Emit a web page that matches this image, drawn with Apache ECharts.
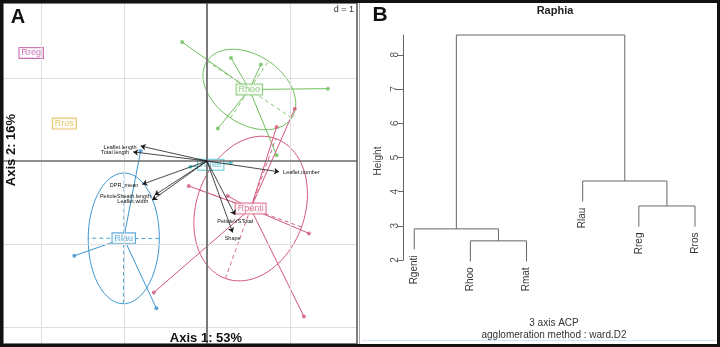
<!DOCTYPE html>
<html>
<head>
<meta charset="utf-8">
<script src="https://cdn.jsdelivr.net/npm/echarts@6/dist/echarts.min.js"></script>
<style>
html,body{margin:0;padding:0;background:#fff}
#main{width:720px;height:347px}
</style>
</head>
<body>
<div id="main"></div>
<script>
// panel A : groups (ACP scores per individual)
var groupNames  = ['Rhoo','Rpenti','Rlau','Rmat','Rreg','Rros'];
var groupColors = ['#6fbf5c','#d4587b','#3c97cf','#45bccc','#b9499f','#e0b43c'];
var rhooPts   = [[-0.30,1.43],[0.29,1.24],[0.65,1.16],[1.46,0.87],[0.13,0.39],[0.84,0.07]];
var rpentiPts = [[1.06,0.63],[0.84,0.41],[-0.22,-0.30],[0.25,-0.42],[1.23,-0.87],[-0.64,-1.58],[1.17,-1.87]];
var rlauPts   = [[-1.60,-1.14],[-0.61,-1.77],[-0.80,0.12]];
var rmatPts   = [[-0.20,-0.07],[0.29,-0.02]];
var rregPts   = [[-2.12,1.30]];
var rrosPts   = [[-1.72,0.45]];
var groupPts  = [rhooPts, rpentiPts, rlauPts, rmatPts, rregPts, rrosPts];

// panel A : variables (arrows)
var varNames = ['Leaflet.length','Total.length','Leaflet.number','DPR_mean','PetioleSheath.length','Leaflet.width','PetioleVSTotal','Shape'];
var varX = [-0.80,-0.89,0.87,-0.78,-0.63,-0.66,0.34,0.31];
var varY = [0.18,0.11,-0.13,-0.28,-0.41,-0.47,-0.65,-0.86];

// panel B : dendrogram (R hclust style merge matrix)
var leafNames    = ['Rgenti','Rhoo','Rmat','Rlau','Rreg','Rros'];
var mergePairs   = [[-2,-3],[-1,1],[-5,-6],[-4,3],[2,4]];
var mergeHeights = [2.56,2.91,3.58,4.31,8.58];
var heightTicks  = [2,3,4,5,6,7,8];

var myChart = echarts.init(document.getElementById('main'));

// group stats : centroid + covariance ellipse (cellipse = 1)
var groups = [];
for (var g = 0; g < groupPts.length; g++) {
  var pts = groupPts[g], n = pts.length, mx = 0, my = 0;
  pts.forEach(function(p){ mx += p[0]; my += p[1]; });
  mx /= n; my /= n;
  var vx = 0, vy = 0, cxy = 0;
  pts.forEach(function(p){ var dx = p[0]-mx, dy = p[1]-my; vx += dx*dx; vy += dy*dy; cxy += dx*dy; });
  vx /= n; vy /= n; cxy /= n;
  var tr = vx + vy, det = vx*vy - cxy*cxy;
  var d = Math.sqrt(Math.max(tr*tr/4 - det, 0));
  groups.push({
    name: groupNames[g], color: groupColors[g], pts: pts, cx: mx, cy: my,
    a: Math.sqrt(tr/2 + d), b: Math.sqrt(Math.max(tr/2 - d, 0)),
    ang: 0.5*Math.atan2(2*cxy, vx - vy)
  });
}

var ellipseData = [], starData = [], pointData = [], labelData = [];
groups.forEach(function(gr, i){
  if (gr.pts.length >= 3) ellipseData.push([i, 0]);
  gr.pts.forEach(function(p){
    if (gr.pts.length > 1) {
      starData.push({coords: [[gr.cx, gr.cy], p], lineStyle: {color: gr.color}});
      pointData.push({value: p, itemStyle: {color: gr.color}});
    }
  });
  labelData.push({
    value: [gr.cx, gr.cy], name: gr.name,
    label: {color: gr.color, borderColor: gr.color}
  });
});

var arrowData = [], arrowLabelData = [];
for (var v = 0; v < varNames.length; v++) {
  arrowData.push({coords: [[0, 0], [varX[v], varY[v]]]});
  arrowLabelData.push([varX[v], varY[v], v]);
}

// dendrogram segments
var hang = 0.1 * (mergeHeights[mergeHeights.length-1] - mergeHeights[0]);
var clusterX = [], dendroData = [], leafData = [];
mergePairs.forEach(function(m, i){
  var h = mergeHeights[i], xs = [], hs = [];
  m.forEach(function(c){
    if (c < 0) {
      xs.push(-c); hs.push(h - hang);
      leafData.push([-c, h - hang, -c - 1]);
    } else {
      xs.push(clusterX[c-1]); hs.push(mergeHeights[c-1]);
    }
  });
  clusterX.push((xs[0] + xs[1]) / 2);
  dendroData.push([xs[0], xs[1], hs[0], hs[1], h]);
});

var gridLines = [-2, -1, 1];
var markGrid = [];
gridLines.forEach(function(k){ markGrid.push({xAxis: k}); });
[1, -1, -2].forEach(function(k){ markGrid.push({yAxis: k}); });

var option = {
  animation: false,
  backgroundColor: '#fff',
  grid: [
    {left: 3, top: 3, width: 354, height: 341},
    {left: 403, top: 35, width: 303.2, height: 225}
  ],
  xAxis: [
    {gridIndex: 0, type: 'value', min: -2.46, max: 1.81, show: false},
    {gridIndex: 1, type: 'value', min: 0.8, max: 6.2, show: false}
  ],
  yAxis: [
    {gridIndex: 0, type: 'value', min: -2.20, max: 1.90, show: false},
    {gridIndex: 1, type: 'value', min: 2, max: 8.58,
      axisLine: {show: true, lineStyle: {color: '#666', width: 1}},
      axisTick: {show: true, length: 5, customValues: heightTicks, lineStyle: {color: '#666'}},
      axisLabel: {customValues: heightTicks, rotate: 90, fontSize: 10, color: '#555', margin: 3,
        fontFamily: 'Liberation Sans'},
      splitLine: {show: false}}
  ],
  graphic: [
    {type: 'rect', z: 100, shape: {x: 3, y: 3, width: 354, height: 341},
      style: {fill: 'none', stroke: '#555', lineWidth: 1.5}},
    {type: 'line', z: 100, shape: {x1: 359.5, y1: 3, x2: 359.5, y2: 344},
      style: {stroke: '#aaa', lineWidth: 1}},
    {type: 'line', z: 100, shape: {x1: 362, y1: 340.5, x2: 718, y2: 340.5},
      style: {stroke: '#d3e4f4', lineWidth: 1}},
    {type: 'rect', z: 100, shape: {x: 1.5, y: 1.5, width: 717, height: 344},
      style: {fill: 'none', stroke: '#111', lineWidth: 3}},
    {type: 'text', z: 100, x: 18, y: 17,
      style: {text: 'A', font: 'bold 20px "Liberation Sans"', fill: '#111', align: 'center', verticalAlign: 'middle'}},
    {type: 'text', z: 100, x: 380, y: 15,
      style: {text: 'B', font: 'bold 21px "Liberation Sans"', fill: '#111', align: 'center', verticalAlign: 'middle'}},
    {type: 'text', z: 100, x: 354, y: 10,
      style: {text: 'd = 1', font: '9px "Liberation Sans"', fill: '#333', align: 'right', verticalAlign: 'middle'}},
    {type: 'text', z: 100, x: 206, y: 338,
      style: {text: 'Axis 1: 53%', font: 'bold 13px "Liberation Sans"', fill: '#111', align: 'center', verticalAlign: 'middle'}},
    {type: 'text', z: 100, x: 11, y: 150, rotation: Math.PI/2,
      style: {text: 'Axis 2: 16%', font: 'bold 13px "Liberation Sans"', fill: '#111', align: 'center', verticalAlign: 'middle'}},
    {type: 'text', z: 100, x: 555, y: 11,
      style: {text: 'Raphia', font: 'bold 11px "Liberation Sans"', fill: '#222', align: 'center', verticalAlign: 'middle'}},
    {type: 'text', z: 100, x: 378, y: 161, rotation: Math.PI/2,
      style: {text: 'Height', font: '10px "Liberation Sans"', fill: '#444', align: 'center', verticalAlign: 'middle'}},
    {type: 'text', z: 100, x: 554, y: 323,
      style: {text: '3 axis ACP', font: '10px "Liberation Sans"', fill: '#333', align: 'center', verticalAlign: 'middle'}},
    {type: 'text', z: 100, x: 554, y: 335,
      style: {text: 'agglomeration method : ward.D2', font: '10px "Liberation Sans"', fill: '#333', align: 'center', verticalAlign: 'middle'}}
  ],
  series: [
    {
      // grid lines of the ACP plot
      type: 'scatter', xAxisIndex: 0, yAxisIndex: 0, z: 0, symbolSize: 0, silent: true,
      data: [[0, 0]],
      markLine: {
        silent: true, symbol: 'none', label: {show: false},
        lineStyle: {color: '#dedede', width: 1, type: 'solid'},
        data: markGrid.concat([
          {xAxis: 0, lineStyle: {color: '#7a7a7a', width: 2}},
          {yAxis: 0, lineStyle: {color: '#6a6a6a', width: 1.5}}
        ])
      }
    },
    {
      type: 'custom', xAxisIndex: 0, yAxisIndex: 0, z: 1, silent: true,
      data: ellipseData,
      renderItem: function(params, api){
        var gr = groups[api.value(0)];
        var c = Math.cos(gr.ang), s = Math.sin(gr.ang), pts = [];
        for (var k = 0; k <= 90; k++) {
          var t = k / 90 * Math.PI * 2;
          var ex = gr.a*Math.cos(t), ey = gr.b*Math.sin(t);
          pts.push(api.coord([gr.cx + ex*c - ey*s, gr.cy + ex*s + ey*c]));
        }
        var p1 = api.coord([gr.cx - gr.a*c, gr.cy - gr.a*s]);
        var p2 = api.coord([gr.cx + gr.a*c, gr.cy + gr.a*s]);
        var q1 = api.coord([gr.cx + gr.b*s, gr.cy - gr.b*c]);
        var q2 = api.coord([gr.cx - gr.b*s, gr.cy + gr.b*c]);
        var dash = {stroke: gr.color, lineWidth: 0.9, lineDash: [4, 3], fill: 'none'};
        return {type: 'group', children: [
          {type: 'polyline', shape: {points: pts}, style: {stroke: gr.color, lineWidth: 1, fill: 'none'}},
          {type: 'line', shape: {x1: p1[0], y1: p1[1], x2: p2[0], y2: p2[1]}, style: dash},
          {type: 'line', shape: {x1: q1[0], y1: q1[1], x2: q2[0], y2: q2[1]}, style: dash}
        ]};
      }
    },
    {
      type: 'lines', coordinateSystem: 'cartesian2d', xAxisIndex: 0, yAxisIndex: 0, z: 2, silent: true,
      symbol: 'none', lineStyle: {width: 1, opacity: 1},
      data: starData
    },
    {
      type: 'scatter', xAxisIndex: 0, yAxisIndex: 0, z: 3, silent: true,
      symbolSize: 4, data: pointData
    },
    {
      type: 'scatter', xAxisIndex: 0, yAxisIndex: 0, z: 4, silent: true,
      symbolSize: 0, data: labelData,
      label: {show: true, position: 'inside', formatter: '{b}', fontSize: 9,
        fontFamily: 'Liberation Sans', backgroundColor: '#fff', borderWidth: 1, padding: [1, 2, 0, 2]}
    },
    {
      type: 'lines', coordinateSystem: 'cartesian2d', xAxisIndex: 0, yAxisIndex: 0, z: 5, silent: true,
      symbol: ['none', 'arrow'], symbolSize: 5,
      lineStyle: {color: '#1a1a1a', width: 0.8, opacity: 1},
      data: arrowData
    },
    {
      type: 'custom', xAxisIndex: 0, yAxisIndex: 0, z: 6, silent: true,
      data: arrowLabelData,
      renderItem: function(params, api){
        var x = api.value(0), y = api.value(1);
        var p = api.coord([x, y]);
        var horiz = Math.abs(x) > Math.abs(y);
        return {type: 'text', x: p[0] + (horiz ? (x < 0 ? -4 : 4) : 0), y: p[1] + (horiz ? 1 : 6),
          style: {text: varNames[api.value(2)], font: '5.5px "Liberation Sans"', fill: '#111',
            align: horiz ? (x < 0 ? 'right' : 'left') : 'center', verticalAlign: 'middle'}};
      }
    },
    {
      type: 'custom', xAxisIndex: 1, yAxisIndex: 1, z: 2, silent: true,
      data: dendroData,
      renderItem: function(params, api){
        var a = api.coord([api.value(0), api.value(2)]);
        var b = api.coord([api.value(0), api.value(4)]);
        var c = api.coord([api.value(1), api.value(4)]);
        var e = api.coord([api.value(1), api.value(3)]);
        return {type: 'polyline', shape: {points: [a, b, c, e]},
          style: {stroke: '#666', lineWidth: 1, fill: 'none'}};
      }
    },
    {
      type: 'custom', xAxisIndex: 1, yAxisIndex: 1, z: 2, silent: true,
      data: leafData,
      renderItem: function(params, api){
        var p = api.coord([api.value(0), api.value(1)]);
        return {type: 'text', x: p[0], y: p[1] + 6, rotation: Math.PI/2,
          style: {text: leafNames[api.value(2)], font: '10px "Liberation Sans"', fill: '#333',
            align: 'right', verticalAlign: 'middle'}};
      }
    }
  ]
};

myChart.setOption(option);
</script>
</body>
</html>
